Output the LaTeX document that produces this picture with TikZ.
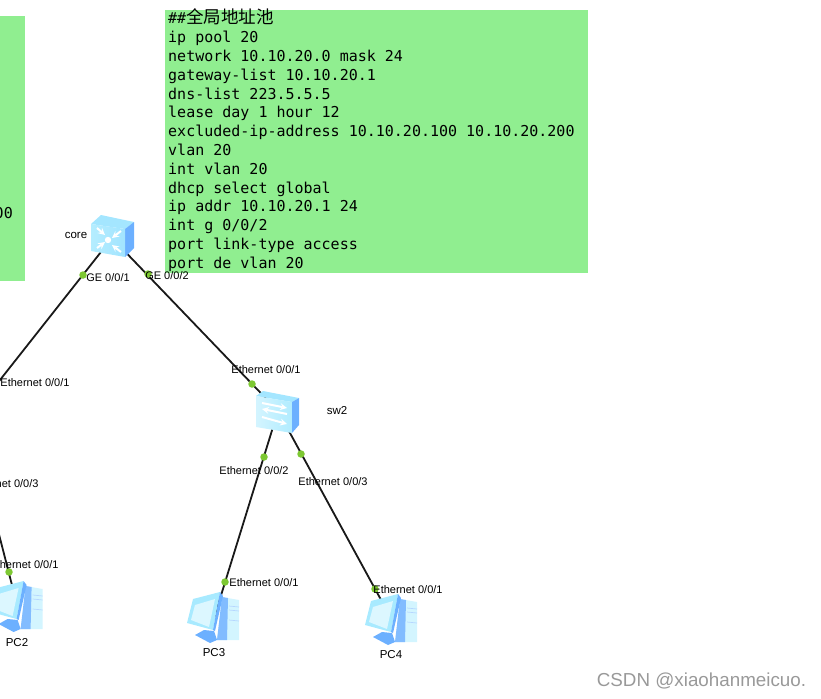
\documentclass[tikz,border=0pt]{standalone}
\usepackage{fontspec}
\setmainfont{Liberation Sans}
\setmonofont{DejaVu Sans Mono}
\newfontfamily\cjk{Noto Sans CJK SC}
\usetikzlibrary{matrix}
\definecolor{cfggreen}{HTML}{90EE90}
\definecolor{portgreen}{HTML}{7DC832}
\definecolor{facelight}{HTML}{A8EAFF}
\definecolor{facetop}{HTML}{A4E6FF}
\definecolor{faceblue}{HTML}{6CB0FF}
\tikzset{
	portdot/.style={circle, fill=portgreen, inner sep=0pt, minimum size=7.5pt},
	portlabel/.style={font=\fontsize{11}{13}\selectfont, inner sep=0pt},
	devlabel/.style={font=\fontsize{11.5}{13}\selectfont, inner sep=0pt},
	devnode/.style={inner sep=0pt, minimum size=1pt},
	linkline/.style={line width=1.8pt, black!90},
	whitearrow/.style={white, line width=2pt, -stealth},
	pics/coreicon/.style={code={
		\fill[facetop] (-21,-14) -- (-11,-23) -- (22,-16) -- (13,-9) -- cycle;
		\fill[faceblue] (22,-16) -- (22,10) -- (13,19) -- (13,-9) -- cycle;
		\shade[left color=facelight!85!white, right color=facelight!90!faceblue] (-21,-14) -- (13,-9) -- (13,19) -- (-21,13) -- cycle;
		\fill[white] (-4,2) circle (3.2);
		\foreach \px/\py/\qx/\qy in {-15/-10/-7/-3, 9/-7/0/0, -15/10/-7/4, 9/14/0/7}
			\draw[whitearrow] (\px,\py) -- (\qx,\qy);
	}},
	pics/swicon/.style={code={
		\fill[facetop] (-22,-15) -- (-15,-20) -- (21,-13) -- (14,-9) -- cycle;
		\fill[faceblue] (21,-13) -- (21,14) -- (14,22) -- (14,-9) -- cycle;
		\shade[left color=facelight!50!white, right color=facelight!90!white] (-22,-15) -- (14,-9) -- (14,22) -- (-22,16) -- cycle;
		\draw[whitearrow] (-16,-8) -- (9,-3);
		\draw[whitearrow] (9,3) -- (-16,-2);
		\draw[whitearrow] (-16,6) -- (9,13);
	}},
	pics/pcicon/.style={code={
		\fill[facelight!50!white] (8,-21) -- (25,-18) -- (25,22) -- (3,22) -- cycle;
		\fill[faceblue!85] (8,-21) -- (14,-20) -- (13,22) -- (3,22) -- cycle;
		\draw[faceblue!50, line width=.7pt] (15,-12) -- (25,-11) (15,-8) -- (25,-7) (15,2) -- (25,3);
		\fill[faceblue] (-19,17) -- (-10,12) -- (0,13) -- (3,22) -- (-4,25) -- cycle;
		\fill[facelight] (-21,-19) -- (6,-26) -- (-1,12) -- (-27,5) -- cycle;
		\fill[faceblue] (6,-26) -- (9,-22) -- (1,13) -- (-1,12) -- cycle;
		\fill[facelight!40!white] (-19,-13) -- (1,-19) -- (-5,9) -- (-23,2) -- cycle;
	}},
}
\begin{document}
\begin{tikzpicture}[x=1pt, y=-1pt]
	\useasboundingbox (0,0) rectangle (821,698);

	\node[fill=cfggreen, inner sep=0pt, minimum width=30pt, minimum height=265pt, anchor=north east] (leftcfg) at (25,16) {};
	\node[font=\ttfamily\fontsize{15}{18}\selectfont, inner sep=0pt, anchor=east] (lefttail) at (13,213) {00};

	\matrix (cfg) [matrix of nodes, fill=cfggreen, inner sep=0pt, anchor=north west, row sep=0pt,
		nodes={font=\ttfamily\fontsize{15}{18}\selectfont, text width=417pt, text height=13pt, text depth=4.4pt, inner xsep=3pt, inner ysep=.7pt, execute at begin node={\spaceskip=0pt \xspaceskip=0pt}}] at (165,10) {
		\#\#{\cjk\fontsize{17.5}{18}\selectfont 全局地址池} \\
		ip pool 20 \\
		network 10.10.20.0 mask 24 \\
		gateway-list 10.10.20.1 \\
		dns-list 223.5.5.5 \\
		lease day 1 hour 12 \\
		excluded-ip-address 10.10.20.100 10.10.20.200 \\
		vlan 20 \\
		int vlan 20 \\
		dhcp select global \\
		ip addr 10.10.20.1 24 \\
		int g 0/0/2 \\
		port link-type access \\
		port de vlan 20 \\
	};

	\node[devnode] (core) at (112,238) {};
	\node[devnode] (sw2) at (278,411) {};
	\node[devnode] (pc2) at (17.6,607) {};
	\node[devnode] (pc3) at (214,618) {};
	\node[devnode] (pc4) at (392,620) {};
	\coordinate (sw1) at (-15,399);
	\coordinate (sw1down) at (-8,507);

	\draw[linkline] (core) -- (sw1);
	\draw[linkline] (core) -- (sw2);
	\draw[linkline] (sw2) -- (pc3);
	\draw[linkline] (sw2) -- (pc4);
	\draw[linkline] (sw1down) -- (pc2);

	\pic at (core) {coreicon};
	\pic at (sw2) {swicon};
	\pic at (pc2) {pcicon};
	\pic at (pc3) {pcicon};
	\pic at (pc4) {pcicon};

	\node[portdot] (p1) at (83,275) {};
	\node[portdot] (p2) at (148,274) {};
	\node[portdot] (p3) at (252,384) {};
	\node[portdot] (p4) at (264,457) {};
	\node[portdot] (p5) at (301,454) {};
	\node[portdot] (p6) at (225,582) {};
	\node[portdot] (p7) at (375,589) {};
	\node[portdot] (p8) at (9,572) {};

	\node[portlabel] (l1) at (108,278) {GE 0/0/1};
	\node[portlabel] (l2) at (167,276) {GE 0/0/2};
	\node[portlabel] (l3) at (266,370) {Ethernet 0/0/1};
	\node[portlabel] (l4) at (254,471) {Ethernet 0/0/2};
	\node[portlabel] (l5) at (333,482) {Ethernet 0/0/3};
	\node[portlabel] (l6) at (264,583) {Ethernet 0/0/1};
	\node[portlabel] (l7) at (408,590) {Ethernet 0/0/1};
	\node[portlabel] (l8) at (24,565) {Ethernet 0/0/1};
	\node[portlabel] (l9) at (35,383) {Ethernet 0/0/1};
	\node[portlabel] (l10) at (4,484) {Ethernet 0/0/3};

	\node[devlabel] (corename) at (76,235) {core};
	\node[devlabel] (sw2name) at (337,411) {sw2};
	\node[devlabel] (pc2name) at (17,643) {PC2};
	\node[devlabel] (pc3name) at (214,653) {PC3};
	\node[devlabel] (pc4name) at (391,655) {PC4};

	\node[font=\fontsize{18.8}{22}\selectfont, text=black!40, inner sep=0pt] (mark) at (701.5,681) {CSDN @xiaohanmeicuo.};
\end{tikzpicture}
\end{document}
